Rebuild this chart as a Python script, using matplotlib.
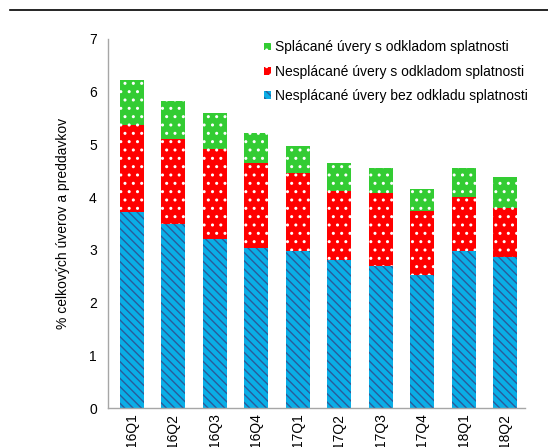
"""
plot.py

Úvery s odkladom splatnosti - skladaný stĺpcový graf
"""

import numpy as np
import matplotlib
matplotlib.use("Agg")
import matplotlib.pyplot as plt
from matplotlib.lines import Line2D
from matplotlib.patches import Patch


# ==========================
# 1. Dáta
# ==========================

QUARTERS = ["16Q1", "16Q2", "16Q3", "16Q4", "17Q1",
            "17Q2", "17Q3", "17Q4", "18Q1", "18Q2"]

# Nesplácané úvery bez odkladu splatnosti
NESPL_BEZ = [3.72, 3.50, 3.21, 3.04, 2.97, 2.81, 2.70, 2.52, 2.98, 2.87]
# Nesplácané úvery s odkladom splatnosti
NESPL_S = [1.65, 1.60, 1.70, 1.61, 1.48, 1.31, 1.38, 1.21, 1.02, 0.92]
# Splácané úvery s odkladom splatnosti
SPL_S = [0.85, 0.73, 0.69, 0.57, 0.52, 0.53, 0.47, 0.43, 0.55, 0.59]

LABELS = [
    "Splácané úvery s odkladom splatnosti",
    "Nesplácané úvery s odkladom splatnosti",
    "Nesplácané úvery bez odkladu splatnosti",
]

YLABEL = "% celkových úverov a preddavkov"

BLUE = "#0AAEE6"
BLUE_HATCH = "#2A5C9A"
RED = "#FF0000"
GREEN = "#33CC33"


# ==========================
# 2. Graf
# ==========================

plt.rcParams["font.family"] = ["Liberation Sans", "DejaVu Sans"]
plt.rcParams["hatch.linewidth"] = 1.0

fig = plt.figure(figsize=(5.48, 4.47), dpi=100)
ax = fig.add_axes([0.197, 0.0872, 0.761, 0.8256])

x = np.arange(len(QUARTERS))
width = 0.58

b1 = np.array(NESPL_BEZ)
b2 = np.array(NESPL_S)
b3 = np.array(SPL_S)

ax.bar(x, b1, width, color=BLUE, edgecolor=BLUE_HATCH,
       linewidth=0, hatch="\\\\\\\\")
ax.bar(x, b2, width, bottom=b1, color=RED, edgecolor="white",
       linewidth=0, hatch="..")
ax.bar(x, b3, width, bottom=b1 + b2, color=GREEN, edgecolor="white",
       linewidth=0, hatch="..")

ax.set_xlim(-0.58, 9.48)
ax.set_ylim(0, 7)
ax.set_yticks(range(0, 8))
ax.set_xticks(x)
ax.set_xticklabels(QUARTERS, rotation=90, fontsize=10)
ax.tick_params(axis="y", length=0, labelsize=10, pad=8)
ax.tick_params(axis="x", length=0, pad=4)

for side in ["top", "right"]:
    ax.spines[side].set_visible(False)
for side in ["left", "bottom"]:
    ax.spines[side].set_color("#A6A6A6")
    ax.spines[side].set_linewidth(1.0)

ax.set_ylabel(YLABEL, fontsize=10, labelpad=14)

handles = [
    Patch(facecolor=GREEN, edgecolor="white", linewidth=0, hatch=".."),
    Patch(facecolor=RED, edgecolor="white", linewidth=0, hatch=".."),
    Patch(facecolor=BLUE, edgecolor=BLUE_HATCH, linewidth=0, hatch="\\\\\\\\"),
]
ax.legend(handles, LABELS, loc="upper right", bbox_to_anchor=(1.037, 1.03),
          frameon=False, fontsize=10, handlelength=0.5, handleheight=0.5,
          handletextpad=0.3, labelspacing=0.75)

# čiara pod nadpisom
fig.add_artist(Line2D([0.018, 1.0], [1 - 10 / 447, 1 - 10 / 447],
                      color="black", linewidth=1.2,
                      transform=fig.transFigure))

fig.savefig("out.png", dpi=100)
